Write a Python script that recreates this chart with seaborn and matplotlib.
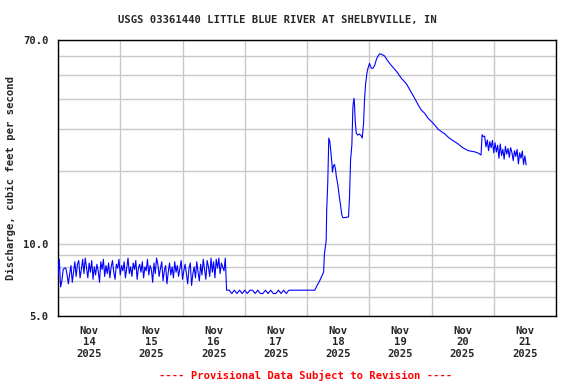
import numpy as np
import pandas as pd
import matplotlib
matplotlib.use("Agg")
import matplotlib.pyplot as plt
import matplotlib.dates as mdates
import seaborn as sns

# start of record
start = pd.Timestamp("2025-11-14 00:00")

# low flow noise, Nov 14 00:00 - Nov 16 16:30, every 30 min
base_flow = [
    7.3, 8.6, 6.6, 7.0, 7.8, 7.9, 7.9, 7.4, 6.8, 7.5,
    8.1, 6.9, 7.6, 8.4, 7.3, 8.2, 8.5, 7.2, 7.8, 8.6,
    7.5, 8.7, 7.9, 7.2, 8.3, 7.6, 8.5, 7.1, 8.0, 7.4,
    8.2, 7.7, 6.9, 8.4, 7.8, 8.6, 7.3, 8.1, 7.5, 8.3,
    7.2, 8.0, 8.5, 7.6, 7.1, 8.2, 7.9, 8.6, 7.4, 8.1,
    7.7, 8.4, 7.2, 7.9, 8.7, 7.5, 8.0, 7.3, 8.3, 7.8,
    8.5, 7.1, 7.9, 8.2, 7.6, 8.4, 7.2, 8.0, 7.7, 8.6,
    7.4, 8.1, 7.8, 6.9, 8.3, 7.5, 8.7, 8.2, 7.3, 7.9,
    8.4, 7.0, 7.7, 8.1, 6.8, 7.6, 8.3, 7.4, 8.0, 7.2,
    8.4, 7.6, 8.1, 7.3, 7.9, 8.5, 7.1, 7.7, 8.2, 7.5,
    6.8, 7.9, 8.3, 6.7, 7.5, 8.0, 7.2, 8.4, 7.6, 7.0,
    8.2, 7.4, 8.6, 7.8, 7.1, 8.5, 8.0, 7.3, 8.7, 7.6,
    8.4, 7.2, 8.6, 7.9, 8.7, 7.5, 8.3, 8.0, 7.7, 8.7,
]

# flat stretch, hourly from 65 h to 99 h
flat_flow = [
    6.4, 6.4, 6.2, 6.4, 6.2, 6.4, 6.2, 6.4, 6.2, 6.4,
    6.4, 6.2, 6.4, 6.2, 6.2, 6.4, 6.2, 6.4, 6.2, 6.2,
    6.4, 6.2, 6.4, 6.2, 6.4, 6.4, 6.4, 6.4, 6.4, 6.4,
    6.4, 6.4, 6.4, 6.4, 6.4,
]

# storm event, hours after start
event_hours = [
    99.9, 100.6, 101.4, 102.4, 102.7, 103.4, 103.6, 104.0, 104.4, 104.8,
    105.2, 105.6, 105.8, 106.2, 106.6, 107.0, 107.3, 107.9, 108.4, 108.9,
    109.4, 109.8, 110.4, 112.0, 112.4, 112.8, 113.3, 113.7, 114.1, 114.3,
    114.6, 115.0, 115.6, 116.2, 116.9, 117.3, 117.8, 118.2, 118.6, 119.1,
    119.5, 120.1, 120.8, 121.4, 122.1, 122.7, 123.4, 124.0, 124.8, 125.9,
    127.0, 128.5, 130.5, 132.4, 134.3, 136.0, 137.5, 138.9, 140.1, 141.4,
    142.7, 144.0, 145.3, 146.6, 147.9, 149.2, 150.5, 152.4, 154.3, 155.6,
    156.9, 158.2, 160.8, 162.1, 163.1,
]
event_flow = [
    6.7, 6.9, 7.2, 7.6, 9.0, 10.3, 13.8, 17.8, 27.4, 26.5,
    24.0, 21.5, 19.8, 21.0, 21.3, 20.3, 19.0, 17.5, 15.8, 14.5,
    13.2, 12.8, 12.8, 12.9, 15.6, 22.2, 25.7, 37.0, 40.1, 38.0,
    32.1, 28.7, 28.2, 28.5, 28.0, 27.4, 31.5, 40.1, 46.0, 51.0,
    53.4, 56.0, 53.4, 53.4, 54.9, 57.9, 60.1, 61.3, 61.0, 60.1,
    57.6, 54.9, 51.9, 48.5, 46.1, 42.8, 40.1, 37.6, 35.8, 34.7,
    33.1, 32.1, 31.0, 29.8, 29.1, 28.5, 27.6, 26.7, 25.9, 25.2,
    24.7, 24.3, 24.0, 23.7, 23.3,
]

# noisy tail, every 30 min from 163.5 h
tail_flow = [
    28.3, 27.8, 27.9, 25.2, 26.9, 24.3, 26.5, 25.0, 26.8, 23.8,
    26.2, 24.0, 25.6, 22.6, 25.9, 23.2, 24.6, 22.4, 25.3, 23.5,
    24.8, 22.8, 25.0, 23.9, 22.1, 24.3, 23.0, 24.6, 21.4, 23.8,
    22.6, 24.2, 21.3, 23.1, 21.2,
]

day_labels = ["Nov\n14\n2025", "Nov\n15\n2025", "Nov\n16\n2025", "Nov\n17\n2025",
              "Nov\n18\n2025", "Nov\n19\n2025", "Nov\n20\n2025", "Nov\n21\n2025"]
y_grid = [5, 6, 7, 8, 9, 10, 20, 30, 40, 50, 60, 70]
y_labels = ["5.0", "", "", "", "", "10.0", "", "", "", "", "", "70.0"]

# sklejenie serii w jedna tabele
t_base = start + pd.to_timedelta(np.arange(len(base_flow)) * 0.5, unit="h")
t_flat = start + pd.to_timedelta(65 + np.arange(len(flat_flow)), unit="h")
t_event = start + pd.to_timedelta(event_hours, unit="h")
t_tail = start + pd.to_timedelta(163.5 + np.arange(len(tail_flow)) * 0.5, unit="h")

df = pd.DataFrame({
    "time": np.concatenate([t_base, t_flat, t_event, t_tail]),
    "flow": base_flow + flat_flow + event_flow + tail_flow,
})

sns.set_style("white")
plt.rcParams["font.family"] = ["DejaVu Sans Mono"]
plt.rcParams["font.weight"] = "bold"
fs = 7.6

fig = plt.figure(figsize=(5.76, 3.84), dpi=100)
ax = fig.add_axes([58 / 576, 1 - 316 / 384, 498 / 576, 276 / 384])

sns.lineplot(data=df, x="time", y="flow", ax=ax, color="#0000ff", lw=0.8, zorder=3)

ax.set_yscale("log")
ax.set_ylim(5, 70)
ax.yaxis.set_major_locator(matplotlib.ticker.FixedLocator(y_grid))
ax.yaxis.set_minor_locator(matplotlib.ticker.NullLocator())
ax.set_yticklabels(y_labels, fontsize=fs, fontweight="bold")

ax.set_xlim(start, start + pd.Timedelta(days=8))
ax.xaxis.set_major_locator(mdates.DayLocator())
ax.xaxis.set_major_formatter(matplotlib.ticker.NullFormatter())
noon = [start + pd.Timedelta(hours=12 + 24 * i) for i in range(len(day_labels))]
ax.set_xticks(noon, minor=True)
ax.set_xticklabels(day_labels, minor=True, fontsize=fs, fontweight="bold", linespacing=1.2)

ax.grid(True, which="major", color="#c8c8c8", lw=1)
ax.tick_params(which="both", length=0)
ax.tick_params(axis="y", pad=7)
ax.tick_params(axis="x", which="minor", pad=7)
for s in ax.spines.values():
    s.set_color("black")
    s.set_linewidth(1)

ax.set_xlabel("")
ax.set_ylabel("Discharge, cubic feet per second", fontsize=fs, fontweight="bold", labelpad=5)

fig.text(277.5 / 576, 1 - 20 / 384, "USGS 03361440 LITTLE BLUE RIVER AT SHELBYVILLE, IN",
         ha="center", va="center", fontsize=fs, fontweight="bold")
fig.text(305.5 / 576, 1 - 375 / 384, "---- Provisional Data Subject to Revision ----",
         ha="center", va="center", fontsize=fs, fontweight="bold", color="#ff0000")

fig.savefig("out.png", dpi=100)
